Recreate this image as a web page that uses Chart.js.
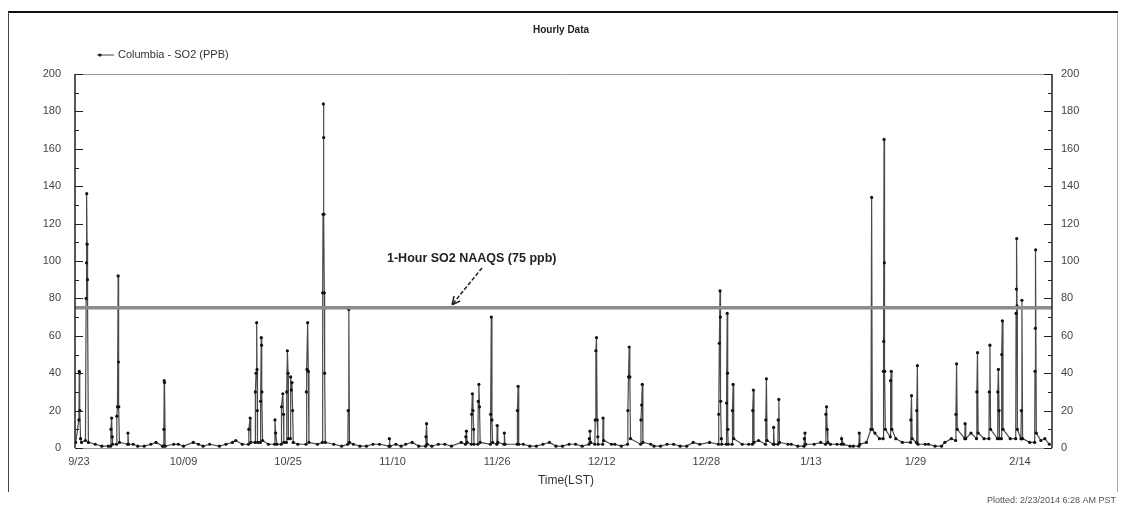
<!DOCTYPE html>
<html>
<head>
<meta charset="utf-8">
<title>Hourly Data</title>
<script src="https://cdn.jsdelivr.net/npm/chart.js@4.4.1/dist/chart.umd.min.js"></script>
<style>
    html, body { margin: 0; padding: 0; background: #fff; }
    #wrap { width: 1121px; height: 508px; position: relative; }
</style>
</head>
<body>
<div id="wrap"><canvas id="chart1" width="1121" height="508"></canvas></div>
<script>
// x values are days since 9/23 (hourly readings)
const tickDays = [0, 16, 32, 48, 64, 80, 96, 112, 128, 144];
const tickLabels = ['9/23', '10/09', '10/25', '11/10', '11/26', '12/12', '12/28', '1/13', '1/29', '2/14'];
const yTicks = [0, 20, 40, 60, 80, 100, 120, 140, 160, 180, 200];
const naaqsPpb = 75;

const obsDay = [
    -0.5, 0.0, 0.05, 0.1, 0.15, 0.25, 0.4,
    1.0, 1.1, 1.15, 1.2, 1.25, 1.3, 1.35, 1.45,
    2.5, 3.5, 4.5,
    4.85, 4.9, 5.0, 5.1, 5.15,
    5.75, 5.8, 5.9, 6.0, 6.05, 6.1, 6.2,
    7.45, 7.5, 7.6, 8.3, 9, 10, 11, 11.8, 12.8,
    12.95, 13.0, 13.05, 13.1, 13.2,
    14.5, 15.2, 16, 17.5, 18.3, 19, 20, 21.5, 22.5, 23.5, 24.0, 25,
    25.95, 26.0, 26.2, 26.3,
    26.95, 27.0, 27.1, 27.2, 27.25, 27.3, 27.35,
    27.75, 27.8, 27.9, 27.95, 28.0, 28.1,
    29, 29.95, 30.0, 30.1, 30.3,
    30.95, 31.0, 31.2, 31.3, 31.35,
    31.75, 31.8, 31.9, 32.0, 32.05,
    32.35, 32.4, 32.5, 32.6, 32.7, 32.8,
    33.5, 34.75, 34.8, 34.9, 35.0, 35.1, 35.2,
    36.5, 37.25, 37.3, 37.35, 37.4, 37.45, 37.5, 37.55, 37.6, 37.7,
    39, 40.2, 41.15, 41.2, 41.3, 41.4,
    42, 43, 44, 45, 46, 47.45, 47.5, 47.6, 48.5, 49.3, 50, 51, 52,
    53.05, 53.1, 53.2, 53.3,
    54, 55, 56, 57, 58.5,
    59.15, 59.2, 59.3, 59.4,
    60.05, 60.1, 60.2, 60.3, 60.4, 60.45,
    61.05, 61.1, 61.2, 61.3, 61.4,
    62.95, 63.0, 63.1, 63.2, 63.3,
    63.95, 64.0, 64.1, 65.05, 65.1, 65.2,
    67.05, 67.1, 67.2, 67.3,
    68, 69, 70, 71, 72, 73, 74, 75, 76, 77,
    78.05, 78.1, 78.2, 78.3,
    78.95, 79.0, 79.1, 79.2, 79.3, 79.4, 79.45,
    80.15, 80.2, 80.3, 81.5, 82, 83,
    83.95, 84.0, 84.1, 84.2, 84.3, 84.4,
    85.95, 86.0, 86.1, 86.2, 86.3,
    87.5, 88, 89, 90, 91, 92, 93, 94, 95, 96.5,
    97.85, 97.9, 98.0, 98.1, 98.15, 98.2, 98.3, 98.35,
    99.05, 99.1, 99.2, 99.25, 99.3, 99.35,
    99.95, 100.0, 100.1, 100.2, 101.5, 102.5,
    103.05, 103.1, 103.2, 103.3, 104,
    105.05, 105.1, 105.2, 105.3,
    106.25, 106.3, 106.4,
    106.95, 107.0, 107.1, 107.2, 108.5, 109, 110,
    110.95, 111.0, 111.1, 111.2, 112.5, 113.5,
    114.25, 114.3, 114.4, 114.5, 114.6,
    115, 116, 116.65, 116.7, 117, 118, 118.5, 119.35, 119.4, 119.5,
    120.5, 121.2, 121.3, 121.4, 121.8, 122.5,
    123.05, 123.1, 123.15, 123.2, 123.25, 123.3, 123.4,
    124.15, 124.2, 124.3, 124.4, 125, 126,
    127.25, 127.3, 127.4, 127.5,
    128.15, 128.2, 128.3, 128.4,
    129.5, 130, 131, 132, 132.5, 133.5,
    134.15, 134.2, 134.3, 134.4,
    135.55, 135.6, 135.7, 136.5,
    137.35, 137.4, 137.5, 137.6, 138.5,
    139.25, 139.3, 139.4, 139.5,
    140.55, 140.6, 140.7, 140.8, 140.85,
    141.15, 141.2, 141.3, 141.4, 142.5,
    143.35, 143.4, 143.45, 143.5, 143.55, 143.6,
    144.15, 144.2, 144.3, 144.4, 145.5,
    146.25, 146.3, 146.35, 146.4, 146.5,
    147.2, 147.8, 148.5
];

const obsPpb = [
    3, 15, 41, 40, 20, 5, 3,
    4, 80, 99, 136, 109, 90, 75, 3,
    2, 1, 1,
    1, 10, 16, 6, 2,
    2, 17, 22, 92, 46, 22, 3,
    2, 8, 2, 2, 1, 1, 2, 3, 1,
    1, 10, 36, 35, 1,
    2, 2, 1, 3, 2, 1, 2, 1, 2, 3, 4, 2,
    2, 10, 16, 3,
    3, 30, 40, 67, 42, 20, 3,
    3, 25, 59, 55, 30, 4,
    2, 2, 15, 8, 2,
    2, 22, 29, 18, 3,
    3, 30, 52, 40, 5,
    5, 38, 31, 35, 20, 3,
    2, 2, 30, 42, 67, 41, 3,
    2, 3, 83, 125, 184, 166, 125, 83, 40, 3,
    2, 1, 2, 20, 74, 3,
    2, 1, 1, 2, 2, 1, 5, 1, 2, 1, 2, 3, 1,
    1, 6, 13, 2,
    1, 2, 2, 1, 3,
    2, 6, 9, 3,
    2, 18, 29, 20, 10, 2,
    2, 25, 34, 22, 3,
    2, 18, 70, 15, 3,
    2, 12, 3, 2, 8, 2,
    2, 20, 33, 2,
    2, 1, 1, 2, 3, 1, 1, 2, 2, 1,
    2, 5, 9, 3,
    2, 15, 52, 59, 15, 6, 2,
    2, 16, 4, 2, 2, 1,
    2, 20, 38, 54, 38, 5,
    2, 15, 23, 34, 3,
    2, 1, 1, 2, 2, 1, 1, 3, 2, 3,
    2, 18, 56, 84, 70, 25, 5, 2,
    2, 24, 72, 40, 10, 2,
    2, 20, 34, 5, 2, 2,
    2, 20, 31, 3, 4,
    2, 15, 37, 4,
    2, 11, 2,
    2, 15, 26, 3, 2, 2, 1,
    1, 5, 8, 2, 2, 3,
    2, 18, 22, 10, 3,
    2, 2, 2, 5, 2, 1, 1, 1, 8, 2,
    3, 10, 134, 10, 8, 5,
    5, 41, 57, 165, 99, 41, 10,
    6, 36, 41, 10, 5, 3,
    3, 15, 28, 5,
    3, 20, 44, 2,
    2, 2, 1, 1, 3, 5,
    4, 18, 45, 10,
    5, 13, 5, 8,
    5, 30, 51, 8, 5,
    5, 30, 55, 10,
    5, 30, 42, 20, 5,
    5, 50, 68, 10, 5,
    5, 72, 85, 112, 76, 10,
    5, 20, 79, 5, 3,
    3, 41, 64, 106, 8,
    4, 5, 2
];

const xMin = -0.6;
const xMax = 148.9;
const font = "'Liberation Sans', Arial, sans-serif";

// frame, legend, inward ticks and the NAAQS note
const decor = {
    id: 'decor',
    afterDraw(chart) {
        const {ctx, chartArea: a, scales: {y}} = chart;
        ctx.save();

        // outer frame
        ctx.strokeStyle = '#111';
        ctx.lineWidth = 2;
        ctx.beginPath();
        ctx.moveTo(8, 12); ctx.lineTo(1118, 12);
        ctx.stroke();
        ctx.lineWidth = 1;
        ctx.strokeStyle = '#444';
        ctx.beginPath();
        ctx.moveTo(8.5, 12); ctx.lineTo(8.5, 492);
        ctx.stroke();
        ctx.strokeStyle = '#aaa';
        ctx.beginPath();
        ctx.moveTo(1117.5, 14); ctx.lineTo(1117.5, 492);
        ctx.stroke();

        // plot box
        ctx.strokeStyle = '#999';
        ctx.beginPath();
        ctx.moveTo(a.left, a.top + 0.5); ctx.lineTo(a.right, a.top + 0.5);
        ctx.moveTo(a.left, a.bottom + 0.5); ctx.lineTo(a.right, a.bottom + 0.5);
        ctx.stroke();
        ctx.strokeStyle = '#222';
        ctx.lineWidth = 1.5;
        ctx.beginPath();
        ctx.moveTo(a.left, a.top); ctx.lineTo(a.left, a.bottom);
        ctx.moveTo(a.right, a.top); ctx.lineTo(a.right, a.bottom);
        ctx.stroke();

        // inward ticks on both value axes
        ctx.lineWidth = 1;
        for (let v = 0; v <= 200; v += 10) {
            const py = Math.round(y.getPixelForValue(v)) + 0.5;
            const len = v % 20 === 0 ? 8 : 4;
            ctx.beginPath();
            ctx.moveTo(a.left, py); ctx.lineTo(a.left + len, py);
            ctx.moveTo(a.right, py); ctx.lineTo(a.right - len, py);
            ctx.stroke();
        }

        // title
        ctx.fillStyle = '#222';
        ctx.textAlign = 'center';
        ctx.textBaseline = 'middle';
        ctx.font = 'bold 10px ' + font;
        ctx.fillText('Hourly Data', 561, 30);

        // legend
        ctx.strokeStyle = '#444';
        ctx.beginPath();
        ctx.moveTo(97, 55); ctx.lineTo(114, 55);
        ctx.stroke();
        ctx.fillStyle = '#111';
        ctx.beginPath();
        ctx.arc(100, 55, 1.6, 0, Math.PI * 2);
        ctx.fill();
        ctx.fillStyle = '#333';
        ctx.textAlign = 'left';
        ctx.font = '11px ' + font;
        ctx.fillText('Columbia - SO2 (PPB)', 118, 55);

        // x axis title
        ctx.textAlign = 'center';
        ctx.font = '12px ' + font;
        ctx.fillText('Time(LST)', 566, 481);

        // plotted stamp
        ctx.textAlign = 'right';
        ctx.font = '9px ' + font;
        ctx.fillStyle = '#555';
        ctx.fillText('Plotted: 2/23/2014 6:28 AM PST', 1116, 501);

        // NAAQS note with arrow
        const lineY = y.getPixelForValue(naaqsPpb);
        ctx.fillStyle = '#222';
        ctx.textAlign = 'left';
        ctx.font = 'bold 12.5px ' + font;
        ctx.fillText('1-Hour SO2 NAAQS (75 ppb)', 387, 259);
        ctx.strokeStyle = '#222';
        ctx.lineWidth = 1.5;
        ctx.setLineDash([4, 2]);
        ctx.beginPath();
        ctx.moveTo(482, 268); ctx.lineTo(452, lineY - 3);
        ctx.stroke();
        ctx.setLineDash([]);
        const ang = Math.atan2(lineY - 3 - 268, 452 - 482);
        ctx.beginPath();
        ctx.moveTo(452, lineY - 3);
        ctx.lineTo(452 - 9 * Math.cos(ang - 0.45), lineY - 3 - 9 * Math.sin(ang - 0.45));
        ctx.moveTo(452, lineY - 3);
        ctx.lineTo(452 - 9 * Math.cos(ang + 0.45), lineY - 3 - 9 * Math.sin(ang + 0.45));
        ctx.stroke();

        ctx.restore();
    }
};

const chart1 = document.getElementById('chart1');
new Chart(chart1, {
    type: 'line',
    data: {
        datasets: [{
            label: 'Columbia - SO2 (PPB)',
            data: obsDay.map((d, i) => ({x: d, y: obsPpb[i]})),
            borderColor: '#4a4a4a',
            borderWidth: 1.2,
            pointRadius: 1.6,
            pointBackgroundColor: '#111',
            pointBorderWidth: 0,
            tension: 0,
            order: 2
        },
            {
                label: 'NAAQS',
                data: [{x: xMin, y: naaqsPpb}, {x: xMax, y: naaqsPpb}],
                borderColor: '#8c8c8c',
                borderWidth: 3.5,
                pointRadius: 0,
                order: 1
            }
        ]
    },
    options: {
        responsive: false,
        animation: false,
        events: [],
        layout: {padding: {left: 0, right: 0, top: 74, bottom: 0}},
        plugins: {
            legend: {display: false},
            title: {display: false},
            tooltip: {enabled: false}
        },
        scales: {
            x: {
                type: 'linear',
                min: xMin,
                max: xMax,
                afterBuildTicks: axis => {
                    axis.ticks = tickDays.map(v => ({value: v}));
                },
                afterFit: axis => {
                    axis.height = 60;
                },
                grid: {display: false, drawTicks: false},
                border: {display: false},
                ticks: {
                    padding: 7,
                    maxRotation: 0,
                    autoSkip: false,
                    color: '#444',
                    font: {family: font, size: 11},
                    callback: v => tickLabels[tickDays.indexOf(v)]
                }
            },
            y: {
                position: 'left',
                min: 0,
                max: 200,
                afterBuildTicks: axis => {
                    axis.ticks = yTicks.map(v => ({value: v}));
                },
                afterFit: axis => {
                    axis.width = 75;
                },
                grid: {display: false, drawTicks: false},
                border: {display: false},
                ticks: {
                    padding: 14,
                    color: '#444',
                    font: {family: font, size: 11}
                }
            },
            y2: {
                position: 'right',
                min: 0,
                max: 200,
                afterBuildTicks: axis => {
                    axis.ticks = yTicks.map(v => ({value: v}));
                },
                afterFit: axis => {
                    axis.width = 69;
                },
                grid: {display: false, drawTicks: false},
                border: {display: false},
                ticks: {
                    padding: 9,
                    color: '#444',
                    font: {family: font, size: 11}
                }
            }
        }
    },
    plugins: [decor]
});
</script>
</body>
</html>
